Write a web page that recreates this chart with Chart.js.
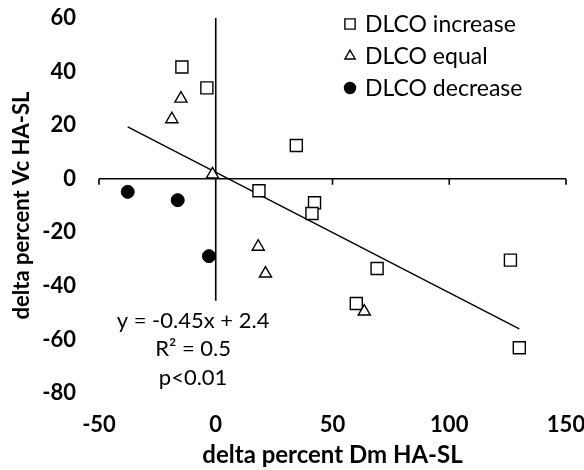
<!DOCTYPE html>
<html>
<head>
<meta charset="utf-8">
<script src="https://cdn.jsdelivr.net/npm/chart.js@4.4.1/dist/chart.umd.min.js"></script>
<style>
  html, body { margin: 0; padding: 0; background: #fff; }
  #wrap { width: 584px; height: 470px; }
</style>
</head>
<body>
<div id="wrap"><canvas id="dlcoChart"></canvas></div>
<script>
// valeurs
const increaseX = [-14.5, -3.8, 34.5, 18.5, 42.3, 41.2, 69.1, 60.2, 126.2, 130.0];
const increaseY = [41.7, 33.9, 12.4, -4.5, -9.0, -13.0, -33.5, -46.6, -30.4, -63.1];
const equalX = [-14.9, -18.8, -1.4, 18.2, 21.3, 63.6];
const equalY = [29.9, 22.2, 1.6, -25.4, -35.4, -49.6];
const decreaseX = [-37.7, -16.3, -2.9];
const decreaseY = [-4.9, -8.0, -28.9];

// droite de tendance (équation affichée)
const slope = -0.45;
const intercept = 2.4;
const trendX = [-37.7, 130.0];
const equationLines = ['y = -0.45x + 2.4', 'R\u00B2 = 0.5', 'p<0.01'];

const xTicks = [-50, 0, 50, 100, 150];
const yTicks = [-80, -60, -40, -20, 0, 20, 40, 60];

const FONT = 'Lato, "Open Sans", sans-serif';

function toPoints(xs, ys) {
    return xs.map((x, i) => ({ x: x, y: ys[i] }));
}

// axes qui se croisent en zéro
const crossAxes = {
    id: 'crossAxes',
    beforeDatasetsDraw(chart) {
        const ctx = chart.ctx;
        const x = chart.scales.x;
        const y = chart.scales.y;
        const y0 = y.getPixelForValue(0);
        const x0 = x.getPixelForValue(0);
        ctx.save();
        ctx.strokeStyle = '#000';
        ctx.lineWidth = 1.6;
        ctx.beginPath();
        ctx.moveTo(x.getPixelForValue(xTicks[0]), y0);
        ctx.lineTo(x.getPixelForValue(xTicks[xTicks.length - 1]), y0);
        xTicks.forEach(v => {
            const px = x.getPixelForValue(v);
            ctx.moveTo(px, y0);
            ctx.lineTo(px, y0 + 6);
        });
        ctx.moveTo(x0, y.getPixelForValue(60));
        ctx.lineTo(x0, y.getPixelForValue(-45.6));
        ctx.stroke();
        ctx.restore();
    }
};

// texte de l'équation
const equationLabel = {
    id: 'equationLabel',
    afterDatasetsDraw(chart) {
        const ctx = chart.ctx;
        const px = chart.scales.x.getPixelForValue(-9.7);
        const py = chart.scales.y.getPixelForValue(-53);
        ctx.save();
        ctx.fillStyle = '#000';
        ctx.font = '22px ' + FONT;
        ctx.textAlign = 'center';
        ctx.textBaseline = 'middle';
        equationLines.forEach((t, i) => ctx.fillText(t, px, py + i * 28.7));
        ctx.restore();
    }
};

// légende dessinée dans la zone du graphique
const insideLegend = {
    id: 'insideLegend',
    afterDraw(chart) {
        const ctx = chart.ctx;
        const sets = chart.data.datasets.filter(d => d.inLegend);
        ctx.save();
        ctx.font = '23px ' + FONT;
        ctx.textBaseline = 'middle';
        ctx.textAlign = 'left';
        sets.forEach((d, i) => {
            const cy = 24 + i * 32;
            ctx.fillStyle = d.backgroundColor;
            ctx.strokeStyle = d.borderColor;
            ctx.lineWidth = 1.4;
            Chart.helpers.drawPoint(ctx, {
                pointStyle: d.pointStyle,
                radius: d.pointRadius * 0.85,
                borderWidth: 1.4
            }, 350, cy);
            ctx.fillStyle = '#000';
            ctx.fillText(d.label, 365, cy + 1);
        });
        ctx.restore();
    }
};

const chartData = {
    datasets: [
        {
            label: 'DLCO increase',
            data: toPoints(increaseX, increaseY),
            pointStyle: 'rect',
            pointRadius: 8.5,
            borderColor: '#000',
            backgroundColor: '#fff',
            borderWidth: 1.4,
            inLegend: true,
            order: 2
        },
        {
            label: 'DLCO equal',
            data: toPoints(equalX, equalY),
            pointStyle: 'triangle',
            pointRadius: 7,
            borderColor: '#000',
            backgroundColor: '#fff',
            borderWidth: 1.4,
            inLegend: true,
            order: 1
        },
        {
            label: 'DLCO decrease',
            data: toPoints(decreaseX, decreaseY),
            pointStyle: 'circle',
            pointRadius: 6.5,
            borderColor: '#000',
            backgroundColor: '#000',
            borderWidth: 1,
            inLegend: true,
            order: 0
        },
        {
            label: 'trend',
            type: 'line',
            data: trendX.map(x => ({ x: x, y: slope * x + intercept })),
            borderColor: '#000',
            borderWidth: 1.4,
            pointRadius: 0,
            fill: false,
            order: 5
        }
    ]
};

const config = {
    type: 'scatter',
    data: chartData,
    options: {
        responsive: true,
        maintainAspectRatio: false,
        animation: false,
        layout: {
            padding: { top: 18, right: 18, left: 0, bottom: 0 }
        },
        plugins: {
            legend: { display: false },
            tooltip: { enabled: false }
        },
        scales: {
            x: {
                type: 'linear',
                min: -50,
                max: 150,
                afterBuildTicks: s => { s.ticks = xTicks.map(v => ({ value: v })); },
                afterFit: s => {
                    s.height = 77;
                    s.paddingLeft = 0;
                    s.paddingRight = 0;
                },
                ticks: {
                    color: '#000',
                    padding: 11,
                    font: { family: FONT, size: 22, weight: 'bold' }
                },
                grid: { display: false },
                border: { display: false },
                title: {
                    display: true,
                    text: 'delta percent Dm HA-SL',
                    color: '#000',
                    padding: { top: 0, bottom: 0 },
                    font: { family: FONT, size: 24, weight: 'bold' }
                }
            },
            y: {
                type: 'linear',
                min: -80,
                max: 60,
                afterBuildTicks: s => { s.ticks = yTicks.map(v => ({ value: v })); },
                afterFit: s => {
                    s.width = 99;
                    s.paddingTop = 0;
                    s.paddingBottom = 0;
                },
                ticks: {
                    color: '#000',
                    padding: 15,
                    font: { family: FONT, size: 22, weight: 'bold' }
                },
                grid: { display: false },
                border: { display: false },
                title: {
                    display: true,
                    text: 'delta percent Vc HA-SL',
                    color: '#000',
                    padding: { top: 9, bottom: 0 },
                    font: { family: FONT, size: 22, weight: 'bold' }
                }
            }
        }
    },
    plugins: [crossAxes, equationLabel, insideLegend]
};

const myChart = new Chart(document.getElementById('dlcoChart').getContext('2d'), config);
</script>
</body>
</html>
